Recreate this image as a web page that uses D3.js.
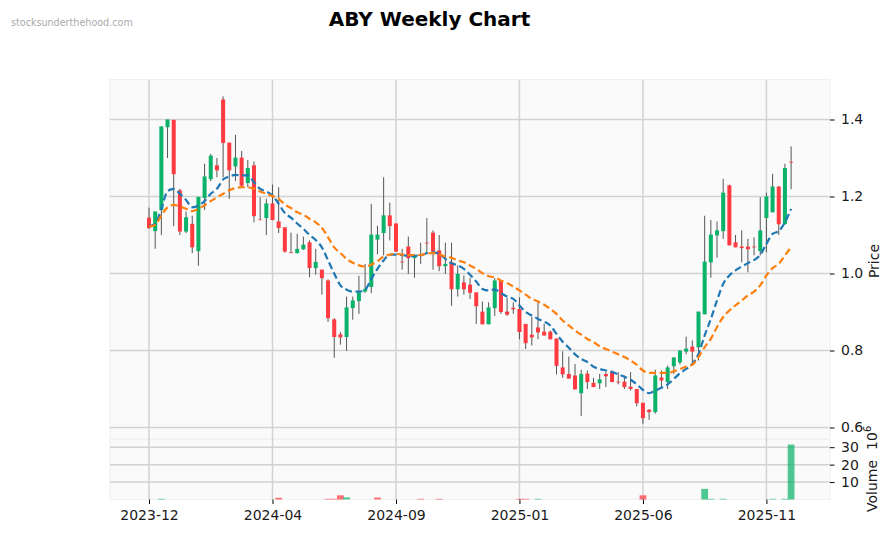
<!DOCTYPE html>
<html>
<head>
<meta charset="utf-8">
<script src="https://cdn.jsdelivr.net/npm/d3@7"></script>
<style>
  html, body { margin: 0; padding: 0; background: #fff; }
  text { font-family: "DejaVu Sans", sans-serif; }
</style>
</head>
<body>
<script>
// weekly candles
var opens = [1.145,1.110,1.165,1.380,1.399,1.216,1.109,1.129,1.058,1.196,1.245,1.281,1.452,1.340,1.278,1.301,1.235,1.281,1.140,1.144,1.182,1.135,1.120,1.055,1.053,1.063,1.081,1.014,1.010,0.982,0.881,0.842,0.835,0.910,0.928,0.953,0.965,1.088,1.105,1.151,1.130,1.031,1.070,1.040,1.048,1.080,1.106,1.060,1.019,1.029,0.959,0.977,0.971,0.951,0.901,0.868,0.910,0.982,0.901,0.911,0.908,0.869,0.841,0.860,0.849,0.849,0.831,0.756,0.739,0.735,0.689,0.740,0.716,0.715,0.739,0.745,0.719,0.719,0.706,0.700,0.664,0.646,0.640,0.730,0.718,0.759,0.769,0.797,0.810,0.808,0.894,1.029,1.099,1.110,1.229,1.081,1.070,1.070,1.070,1.058,1.144,1.159,1.226,1.128,1.290];
var highs = [1.171,1.161,1.382,1.400,1.399,1.220,1.161,1.150,1.199,1.285,1.311,1.300,1.460,1.340,1.360,1.318,1.295,1.291,1.198,1.194,1.231,1.224,1.120,1.106,1.103,1.096,1.086,1.064,1.010,0.985,0.884,0.848,0.940,0.940,0.994,1.025,1.181,1.124,1.250,1.184,1.130,1.064,1.096,1.050,1.080,1.144,1.112,1.100,1.080,1.080,1.021,0.995,0.989,0.951,0.927,0.925,0.988,0.982,0.937,0.925,0.938,0.869,0.888,0.925,0.869,0.852,0.831,0.798,0.784,0.765,0.750,0.748,0.729,0.739,0.744,0.748,0.744,0.735,0.744,0.700,0.664,0.648,0.750,0.748,0.761,0.782,0.800,0.836,0.826,0.901,1.150,1.139,1.135,1.246,1.231,1.100,1.112,1.090,1.094,1.198,1.210,1.259,1.226,1.285,1.330];
var lows = [1.116,1.064,1.100,1.300,1.123,1.100,1.105,1.053,1.020,1.165,1.240,1.250,1.250,1.194,1.240,1.224,1.224,1.133,1.139,1.100,1.138,1.105,1.054,1.053,1.052,1.061,0.990,0.997,0.945,0.874,0.781,0.815,0.799,0.880,0.895,0.950,0.949,1.050,1.047,1.086,1.057,1.010,0.999,0.989,1.025,1.051,1.010,1.006,0.999,0.916,0.940,0.945,0.934,0.869,0.868,0.868,0.890,0.895,0.890,0.895,0.829,0.804,0.813,0.829,0.839,0.829,0.738,0.729,0.727,0.699,0.630,0.700,0.705,0.700,0.705,0.718,0.712,0.700,0.696,0.655,0.610,0.620,0.636,0.705,0.700,0.739,0.764,0.790,0.770,0.774,0.894,0.989,1.041,1.090,1.073,1.068,1.029,1.003,1.047,1.047,1.055,1.159,1.100,1.128,1.219];
var closes = [1.118,1.161,1.382,1.400,1.258,1.109,1.146,1.068,1.199,1.252,1.306,1.268,1.339,1.268,1.301,1.228,1.274,1.149,1.139,1.182,1.139,1.118,1.057,1.053,1.064,1.075,1.014,1.030,0.988,0.884,0.835,0.834,0.912,0.930,0.951,0.960,1.101,1.101,1.151,1.123,1.057,1.029,1.040,1.046,1.046,1.078,1.057,1.019,1.025,0.959,0.999,0.959,0.950,0.915,0.868,0.912,0.982,0.900,0.893,0.907,0.848,0.819,0.834,0.847,0.839,0.829,0.760,0.738,0.727,0.699,0.739,0.718,0.705,0.725,0.733,0.718,0.717,0.705,0.700,0.663,0.624,0.640,0.735,0.722,0.756,0.782,0.800,0.805,0.797,0.901,1.031,1.101,1.112,1.210,1.073,1.068,1.066,1.063,1.068,1.112,1.200,1.226,1.128,1.274,1.288];

// moving averages
var maFast = [1.123,1.129,1.168,1.214,1.220,1.207,1.191,1.172,1.176,1.188,1.207,1.220,1.244,1.252,1.256,1.255,1.255,1.237,1.220,1.213,1.203,1.181,1.157,1.145,1.130,1.116,1.100,1.087,1.068,1.034,1.000,0.969,0.958,0.953,0.953,0.958,0.986,1.012,1.034,1.049,1.049,1.048,1.046,1.046,1.047,1.053,1.055,1.051,1.038,1.027,1.021,1.012,0.997,0.979,0.960,0.956,0.959,0.949,0.940,0.934,0.917,0.900,0.891,0.882,0.875,0.865,0.843,0.823,0.807,0.790,0.778,0.770,0.758,0.752,0.748,0.744,0.738,0.732,0.724,0.712,0.698,0.689,0.696,0.703,0.712,0.726,0.741,0.752,0.765,0.791,0.839,0.882,0.930,0.973,0.995,1.008,1.018,1.027,1.035,1.048,1.077,1.103,1.110,1.133,1.168];
var maSlow = [1.122,1.126,1.151,1.172,1.178,1.174,1.168,1.162,1.168,1.177,1.188,1.198,1.207,1.216,1.222,1.224,1.224,1.220,1.213,1.207,1.201,1.194,1.179,1.170,1.159,1.153,1.142,1.133,1.119,1.094,1.068,1.053,1.038,1.028,1.021,1.018,1.023,1.032,1.044,1.049,1.051,1.049,1.048,1.048,1.048,1.052,1.053,1.050,1.044,1.041,1.034,1.029,1.021,1.012,1.001,0.993,0.990,0.982,0.975,0.966,0.956,0.945,0.934,0.927,0.919,0.908,0.895,0.878,0.865,0.852,0.841,0.830,0.822,0.811,0.804,0.797,0.790,0.783,0.774,0.763,0.748,0.742,0.742,0.742,0.742,0.746,0.752,0.758,0.763,0.783,0.809,0.830,0.861,0.887,0.904,0.917,0.930,0.943,0.953,0.969,0.995,1.014,1.025,1.047,1.068];

// only the weeks with a visible volume bar (millions)
var volWeeks = [2,21,29,30,31,32,37,44,47,60,61,63,80,90,91,93,101,103,104];
var volValues = [0.4,1.0,0.4,0.4,2.4,1.2,1.1,0.4,0.4,0.4,0.4,0.4,2.4,6.1,0.4,0.4,0.4,0.4,31.5];
var volUp = [1,0,0,0,0,1,0,0,0,0,0,1,0,1,1,1,1,1,1];

var xTickWeeks = [0,20,40,60,80,100];
var xTickLabels = ["2023-12","2024-04","2024-09","2025-01","2025-06","2025-11"];
var priceTicks = [0.6,0.8,1.0,1.2,1.4];
var volTicks = [10,20,30];

var width = 891, height = 533;
var left = 110, right = 830;
var colorUp = "#0bb36a", colorDown = "#ff3a41", wickColor = "#555555", gridColor = "#d2d2d2";
var textColor = "#1a1a1a";

var svg = d3.select("body").append("svg")
    .attr("width", width).attr("height", height)
    .style("display", "block");

var x = d3.scaleLinear().domain([-6.32, 110.3]).range([left, right]);
var y = d3.scaleLinear().domain([0.6, 1.4]).range([427.5, 119.5]);
var yVol = d3.scaleLinear().domain([0, 30]).range([499.5, 447.2]);

// panels
svg.append("rect").attr("x", left).attr("y", 79.5).attr("width", right - left).attr("height", 359.5)
    .attr("fill", "#fafafa").attr("stroke", "#f0f0f0");
svg.append("rect").attr("x", left).attr("y", 439.5).attr("width", right - left).attr("height", 60)
    .attr("fill", "#fafafa").attr("stroke", "#f0f0f0");

// grid
svg.append("g").selectAll("line").data(xTickWeeks).enter().append("line")
    .attr("x1", x).attr("x2", x).attr("y1", 80).attr("y2", 499.5)
    .attr("stroke", gridColor).attr("stroke-width", 1.5);
svg.append("g").selectAll("line").data(priceTicks).enter().append("line")
    .attr("x1", left).attr("x2", right).attr("y1", y).attr("y2", y)
    .attr("stroke", gridColor).attr("stroke-width", 1.5);
svg.append("g").selectAll("line").data(volTicks).enter().append("line")
    .attr("x1", left).attr("x2", right).attr("y1", yVol).attr("y2", yVol)
    .attr("stroke", gridColor).attr("stroke-width", 1.5);

// volume bars
var bw = (x(1) - x(0)) * 1.1;
svg.append("g").selectAll("rect").data(volWeeks).enter().append("rect")
    .attr("x", function(d) { return x(d) - bw / 2; })
    .attr("width", bw)
    .attr("y", function(d, i) { return yVol(volValues[i]); })
    .attr("height", function(d, i) { return yVol(0) - yVol(volValues[i]); })
    .attr("fill", function(d, i) { return volUp[i] ? colorUp : colorDown; })
    .attr("opacity", 0.72);

// candles
var cw = (x(1) - x(0)) * 0.65;
var candles = svg.append("g").selectAll("g").data(opens).enter().append("g");
candles.append("line")
    .attr("x1", function(d, i) { return x(i); })
    .attr("x2", function(d, i) { return x(i); })
    .attr("y1", function(d, i) { return y(highs[i]); })
    .attr("y2", function(d, i) { return y(lows[i]); })
    .attr("stroke", wickColor).attr("stroke-width", 1);
candles.append("rect")
    .attr("x", function(d, i) { return x(i) - cw / 2; })
    .attr("width", cw)
    .attr("y", function(d, i) { return y(Math.max(opens[i], closes[i])); })
    .attr("height", function(d, i) { return Math.max(0.6, Math.abs(y(opens[i]) - y(closes[i]))); })
    .attr("fill", function(d, i) { return closes[i] >= opens[i] ? colorUp : colorDown; });

// moving average lines
var line = d3.line().x(function(d, i) { return x(i); }).y(function(d) { return y(d); })
    .curve(d3.curveMonotoneX);
svg.append("path").attr("d", line(maFast)).attr("fill", "none")
    .attr("stroke", "#1f77b4").attr("stroke-width", 2.2).attr("stroke-dasharray", "7,3.6");
svg.append("path").attr("d", line(maSlow)).attr("fill", "none")
    .attr("stroke", "#ff7f0e").attr("stroke-width", 2.2).attr("stroke-dasharray", "7,3.6");

// axes
var xAxis = d3.axisBottom(x).tickValues(xTickWeeks)
    .tickFormat(function(d, i) { return xTickLabels[i]; }).tickSize(4.5).tickPadding(6.5);
var gx = svg.append("g").attr("transform", "translate(0,499.5)").call(xAxis);
gx.select(".domain").remove();
gx.selectAll("text").attr("font-size", 14).attr("fill", textColor);

var gy = svg.append("g").attr("transform", "translate(" + right + ",0)")
    .call(d3.axisRight(y).tickValues(priceTicks).tickFormat(d3.format(".1f")).tickSize(4.5).tickPadding(6.5));
gy.select(".domain").remove();
gy.selectAll("text").attr("font-size", 14).attr("fill", textColor);

var gv = svg.append("g").attr("transform", "translate(" + right + ",0)")
    .call(d3.axisRight(yVol).tickValues(volTicks).tickSize(4.5).tickPadding(6.5));
gv.select(".domain").remove();
gv.selectAll("text").attr("font-size", 14).attr("fill", textColor);

// labels
svg.append("text").attr("x", 429.5).attr("y", 25.5).attr("text-anchor", "middle")
    .attr("font-size", 20).attr("font-weight", "bold").attr("fill", "#000").text("ABY Weekly Chart");
svg.append("text").attr("x", 11).attr("y", 26).attr("font-size", 9.6).attr("fill", "#aaaaaa")
    .text("stocksunderthehood.com");
svg.append("text").attr("transform", "translate(879,261) rotate(-90)").attr("text-anchor", "middle")
    .attr("font-size", 14).attr("fill", textColor).text("Price");

var volLabel = svg.append("text").attr("transform", "translate(877,512) rotate(-90)")
    .attr("font-size", 14).attr("fill", textColor);
volLabel.append("tspan").text("Volume");
volLabel.append("tspan").attr("dx", 10).text("10");
volLabel.append("tspan").attr("dy", -6).attr("font-size", 10).text("6");
</script>
</body>
</html>
